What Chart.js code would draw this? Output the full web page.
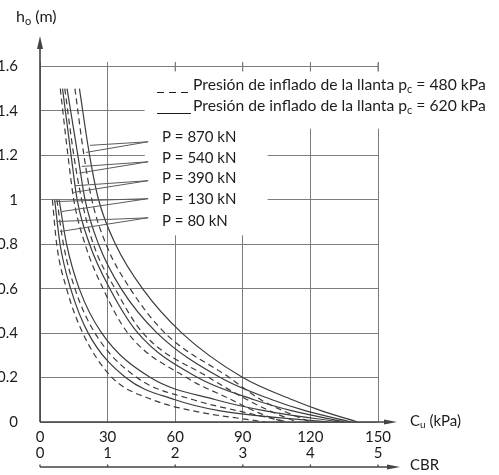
<!DOCTYPE html>
<html>
<head>
<meta charset="utf-8">
<script src="https://cdn.jsdelivr.net/npm/chart.js@4"></script>
<style>
    html, body { margin: 0; padding: 0; background: #fff; overflow: hidden; }
    #wrap { position: relative; width: 499px; height: 475px; }
</style>
</head>
<body>
<div id="wrap"><canvas id="AbacoChart" width="499" height="475"></canvas></div>
<script>
// espesor h_o (m) en funcion de Cu (kPa)
const hBig = [1.5, 1.2, 1.0, 0.8, 0.6, 0.4, 0.2, 0.1, 0.05, 0];
const hSmall = [1.0, 0.8, 0.6, 0.4, 0.2, 0.1, 0.05, 0];

const cu870_480 = [15.5, 19.5, 23, 29.3, 40, 55.5, 84, 98, 108, 120];
const cu870_620 = [17.5, 22, 26, 33.5, 45.5, 63, 90, 112, 125, 141];
const cu540_480 = [11, 15, 18.5, 23.7, 33.3, 45.7, 75, 92, 102, 114];
const cu540_620 = [12, 16.8, 20, 26, 36, 52, 80, 103, 118, 138];
const cu390_480 = [9, 12.4, 15, 20, 28, 39, 65, 85, 95, 108];
const cu390_620 = [10, 13.8, 16.5, 22, 31, 43.5, 70, 95, 112, 135];
const cu130_480 = [7.5, 10.4, 15.5, 24.4, 43, 68, 88, 110];
const cu130_620 = [8.5, 11.8, 17.4, 27.4, 49, 78, 100, 133];
const cu80_480 = [5.5, 7.4, 11.8, 19, 32, 50, 68, 100];
const cu80_620 = [6.5, 8.9, 13.6, 21.4, 38, 60, 80, 128];

const cuTicks = [0, 30, 60, 90, 120, 150];
const cbrTicks = [0, 1, 2, 3, 4, 5];
const hTicks = [0, 0.2, 0.4, 0.6, 0.8, 1, 1.2, 1.4, 1.6];

const loadLabels = ['P = 870 kN', 'P = 540 kN', 'P = 390 kN', 'P = 130 kN', 'P = 80 kN'];
const labelH = [1.283, 1.189, 1.099, 1.005, 0.905];
// lineas guia (Cu, h)
const leaderAnchor = [[48, 1.261], [48, 1.171], [48, 1.086], [48, 1.005], [48, 0.919]];
const leaderTargets = [
    [[22.2, 1.245], [20.4, 1.213]],
    [[18.5, 1.150], [17.4, 1.120]],
    [[15.5, 1.063], [14.8, 1.033]],
    [[6.7, 0.992], [9.6, 0.947]],
    [[7.4, 0.902], [8.9, 0.857]]
];

const FONT = 'Lato, "Open Sans", sans-serif';
const INK = '#1c1c1c';
const CURVE = '#3c3c3c';
const GRID = '#7c7c7c';

function pts(cu, h){
    return cu.map((c, i) => ({x: c, y: h[i]}));
}

function curve(cu, h, dashed){
    return {
        data: pts(cu, h),
        borderColor: CURVE,
        borderWidth: 1.2,
        borderDash: dashed ? [6, 4] : [],
        pointRadius: 0,
        fill: false,
        cubicInterpolationMode: 'monotone'
    };
}

function drawParts(ctx, x, y, parts, size){
    // parts: [texto, esSubindice]
    ctx.textBaseline = 'middle';
    ctx.textAlign = 'left';
    parts.forEach(p => {
        if (p[1]) {
            ctx.font = Math.round(size * 0.68) + 'px ' + FONT;
            ctx.fillText(p[0], x, y + size * 0.28);
        } else {
            ctx.font = size + 'px ' + FONT;
            ctx.fillText(p[0], x, y);
        }
        x += ctx.measureText(p[0]).width;
    });
}

function arrow(ctx, tipX, tipY, dir){
    ctx.beginPath();
    if (dir === 'up') {
        ctx.moveTo(tipX, tipY);
        ctx.lineTo(tipX - 3, tipY + 13);
        ctx.lineTo(tipX + 3, tipY + 13);
    } else {
        ctx.moveTo(tipX, tipY);
        ctx.lineTo(tipX - 13, tipY - 2.5);
        ctx.lineTo(tipX - 13, tipY + 2.5);
    }
    ctx.closePath();
    ctx.fill();
}

const abacoPlugin = {
    id: 'abaco',
    beforeDatasetsDraw(chart){
        // zona de textos tapa la reticula
        const ctx = chart.ctx;
        const x = chart.scales.x, y = chart.scales.y;
        ctx.save();
        ctx.fillStyle = '#fff';
        let x0 = x.getPixelForValue(46.5);
        let yTop = y.getPixelForValue(1.578);
        ctx.fillRect(x0, yTop, x.getPixelForValue(152) - x0, y.getPixelForValue(1.32) - yTop);
        ctx.fillRect(x0, yTop, x.getPixelForValue(101) - x0, y.getPixelForValue(0.84) - yTop);
        ctx.restore();
    },
    afterDraw(chart){
        const ctx = chart.ctx;
        const x = chart.scales.x, y = chart.scales.y, x2 = chart.scales.x2;
        const left = x.getPixelForValue(0), bottom = y.getPixelForValue(0);
        ctx.save();

        // ejes
        ctx.strokeStyle = '#444';
        ctx.fillStyle = '#444';
        ctx.lineWidth = 1.6;
        ctx.beginPath();
        ctx.moveTo(left, bottom);
        ctx.lineTo(left, 46);
        ctx.moveTo(left, bottom);
        ctx.lineTo(388, bottom);
        ctx.stroke();
        arrow(ctx, left, 36, 'up');
        arrow(ctx, 397, bottom, 'right');

        // eje CBR
        const cbrY = 467;
        ctx.lineWidth = 1.3;
        ctx.beginPath();
        ctx.moveTo(left, cbrY);
        ctx.lineTo(392, cbrY);
        cbrTicks.forEach(v => {
            const px = x2.getPixelForValue(v);
            ctx.moveTo(px, cbrY);
            ctx.lineTo(px, cbrY - 2.5);
        });
        ctx.stroke();
        arrow(ctx, 400, cbrY, 'right');

        // marcas sobre la linea 1.6
        ctx.strokeStyle = GRID;
        ctx.lineWidth = 1;
        ctx.beginPath();
        cuTicks.slice(2).forEach(v => {
            const px = x.getPixelForValue(v);
            ctx.moveTo(px, y.getPixelForValue(1.6) - 4);
            ctx.lineTo(px, y.getPixelForValue(1.6) + 5);
        });
        ctx.stroke();

        // lineas guia
        ctx.strokeStyle = '#5a5a5a';
        ctx.lineWidth = 1;
        ctx.beginPath();
        leaderAnchor.forEach((a, i) => {
            leaderTargets[i].forEach(t => {
                ctx.moveTo(x.getPixelForValue(a[0]), y.getPixelForValue(a[1]));
                ctx.lineTo(x.getPixelForValue(t[0]), y.getPixelForValue(t[1]));
            });
        });
        ctx.stroke();

        // muestras de la leyenda
        ctx.strokeStyle = INK;
        ctx.lineWidth = 1.1;
        ctx.setLineDash([7, 5]);
        ctx.beginPath();
        ctx.moveTo(157, 92.5);
        ctx.lineTo(191, 92.5);
        ctx.stroke();
        ctx.setLineDash([]);
        ctx.beginPath();
        ctx.moveTo(157, 113.5);
        ctx.lineTo(191, 113.5);
        ctx.stroke();

        // textos
        ctx.fillStyle = INK;
        const size = 15;
        loadLabels.forEach((s, i) => {
            drawParts(ctx, 162, y.getPixelForValue(labelH[i]), [[s, false]], size);
        });
        drawParts(ctx, 193, 85, [['Presión de inflado de la llanta p', false], ['c', true], [' = 480 kPa', false]], 15.7);
        drawParts(ctx, 193, 106, [['Presión de inflado de la llanta p', false], ['c', true], [' = 620 kPa', false]], 15.7);

        drawParts(ctx, 16, 17, [['h', false], ['o', true], [' (m)', false]], 16);
        drawParts(ctx, 410, 421, [['C', false], ['u', true], [' (kPa)', false]], size);
        drawParts(ctx, 410, 465, [['CBR', false]], size);
        ctx.restore();
    }
};

function fmtTick(v){
    return String(Math.round(v * 10) / 10);
}

window.onload = function(){
    let ctx = document.getElementById('AbacoChart').getContext('2d');
    window.AChart = new Chart(ctx, {
        type: 'line',
        data: {
            datasets: [
                curve(cu870_480, hBig, true),
                curve(cu870_620, hBig, false),
                curve(cu540_480, hBig, true),
                curve(cu540_620, hBig, false),
                curve(cu390_480, hBig, true),
                curve(cu390_620, hBig, false),
                curve(cu130_480, hSmall, true),
                curve(cu130_620, hSmall, false),
                curve(cu80_480, hSmall, true),
                curve(cu80_620, hSmall, false)
            ]
        },
        options: {
            responsive: false,
            animation: false,
            layout: {
                padding: {left: 0, right: 121, top: 62, bottom: 11}
            },
            plugins: {
                legend: {display: false},
                tooltip: {enabled: false}
            },
            scales: {
                x: {
                    type: 'linear',
                    min: 0,
                    max: 150,
                    afterBuildTicks: s => { s.ticks = cuTicks.map(v => ({value: v})); },
                    afterFit: s => { s.height = 22; },
                    grid: {color: GRID, lineWidth: 1, drawTicks: false},
                    border: {display: false},
                    ticks: {color: INK, font: {family: FONT, size: 15}, padding: 6, maxRotation: 0, callback: fmtTick}
                },
                x2: {
                    type: 'linear',
                    position: 'bottom',
                    min: 0,
                    max: 5,
                    afterBuildTicks: s => { s.ticks = cbrTicks.map(v => ({value: v})); },
                    afterFit: s => { s.height = 20; },
                    grid: {display: false, drawTicks: false},
                    border: {display: false},
                    ticks: {color: INK, font: {family: FONT, size: 15}, padding: 0, maxRotation: 0, callback: fmtTick}
                },
                y: {
                    type: 'linear',
                    min: 0,
                    max: 1.62,
                    afterBuildTicks: s => { s.ticks = hTicks.map(v => ({value: v})); },
                    afterFit: s => { s.width = 40; },
                    grid: {color: GRID, lineWidth: 1, drawTicks: false},
                    border: {display: false},
                    ticks: {color: INK, font: {family: FONT, size: 15}, padding: 22, callback: fmtTick}
                }
            }
        },
        plugins: [abacoPlugin]
    });
};
</script>
</body>
</html>
